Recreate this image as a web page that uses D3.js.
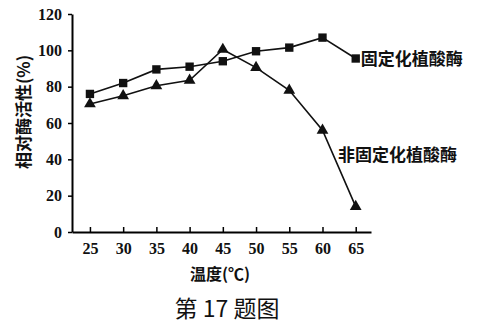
<!DOCTYPE html>
<html>
<head>
<meta charset="utf-8">
<script src="https://cdn.jsdelivr.net/npm/d3@7"></script>
<style>
  body { margin: 0; background: #fff; }
  svg text { fill: #111; }
</style>
</head>
<body>
<script>
const w = 484;
const h = 332;

// data
const temps = [25, 30, 35, 40, 45, 50, 55, 60, 65];
const fixedEnzyme = [76, 82, 89.5, 91, 94, 99.5, 101.5, 107, 95.5];
const freeEnzyme = [70.5, 75, 80.5, 83.5, 100.5, 90.5, 78, 56, 14];
const yTicks = [0, 20, 40, 60, 80, 100, 120];
const seriesNames = ["固定化植酸酶", "非固定化植酸酶"];

const svg = d3.select("body")
  .append("svg")
  .attr("width", w)
  .attr("height", h);

const xScale = d3.scaleLinear()
  .domain([22.3, 67.3])
  .range([72, 371]);

const yScale = d3.scaleLinear()
  .domain([0, 120])
  .range([232, 14]);

const serif = "'Liberation Serif', 'Times New Roman', serif";
const cjk = "'Noto Sans CJK SC', sans-serif";

// y axis
const yAxis = d3.axisLeft(yScale)
  .tickValues(yTicks)
  .tickSize(4)
  .tickSizeOuter(0)
  .tickPadding(6);
const yAxisGroup = svg.append("g")
  .attr("transform", "translate(72, 0)")
  .call(yAxis);
yAxisGroup.select(".domain").attr("stroke-width", 2);
yAxisGroup.selectAll(".tick line").attr("stroke-width", 1.5);
yAxisGroup.selectAll(".tick text")
  .style("font-family", serif)
  .style("font-size", "16px")
  .style("font-weight", "bold");

// x axis, ticks point up into the plot
const xAxis = d3.axisBottom(xScale)
  .tickValues(temps)
  .tickSize(-5)
  .tickSizeOuter(0)
  .tickPadding(11);
const xAxisGroup = svg.append("g")
  .attr("transform", "translate(0, 232)")
  .call(xAxis);
xAxisGroup.select(".domain").attr("stroke-width", 2);
xAxisGroup.selectAll(".tick line").attr("stroke-width", 1.5);
xAxisGroup.selectAll(".tick text")
  .style("font-family", serif)
  .style("font-size", "16px")
  .style("font-weight", "bold");

const line = d3.line()
  .x((d, i) => xScale(temps[i]))
  .y(d => yScale(d));

svg.append("path")
  .datum(fixedEnzyme)
  .attr("d", line)
  .attr("fill", "none")
  .attr("stroke", "#111")
  .attr("stroke-width", 1.6);

svg.append("path")
  .datum(freeEnzyme)
  .attr("d", line)
  .attr("fill", "none")
  .attr("stroke", "#111")
  .attr("stroke-width", 1.6);

svg.selectAll("path.sq")
  .data(fixedEnzyme)
  .enter()
  .append("path")
  .attr("class", "sq")
  .attr("d", d3.symbol().type(d3.symbolSquare).size(70))
  .attr("transform", (d, i) => `translate(${xScale(temps[i])}, ${yScale(d)})`)
  .attr("fill", "#111");

svg.selectAll("path.tri")
  .data(freeEnzyme)
  .enter()
  .append("path")
  .attr("class", "tri")
  .attr("d", d3.symbol().type(d3.symbolTriangle).size(60))
  .attr("transform", (d, i) => `translate(${xScale(temps[i])}, ${yScale(d)})`)
  .attr("fill", "#111");

// series labels
svg.append("text")
  .attr("x", xScale(65) + 5)
  .attr("y", yScale(fixedEnzyme[8]) + 6)
  .style("font-family", cjk)
  .style("font-size", "17px")
  .style("font-weight", "bold")
  .text(seriesNames[0]);

svg.append("text")
  .attr("x", 338)
  .attr("y", 161)
  .style("font-family", cjk)
  .style("font-size", "17px")
  .style("font-weight", "bold")
  .text(seriesNames[1]);

// axis titles
svg.append("text")
  .attr("transform", "translate(22, 112) rotate(-90)")
  .attr("text-anchor", "middle")
  .attr("dominant-baseline", "central")
  .style("font-family", cjk)
  .style("font-size", "17px")
  .style("font-weight", "bold")
  .text("相对酶活性(%)");

svg.append("text")
  .attr("x", 220)
  .attr("y", 280)
  .attr("text-anchor", "middle")
  .style("font-family", cjk)
  .style("font-size", "16px")
  .style("font-weight", "bold")
  .text("温度(℃)");

svg.append("text")
  .attr("x", 227)
  .attr("y", 317)
  .attr("text-anchor", "middle")
  .style("font-family", cjk)
  .style("font-size", "23px")
  .text("第 17 题图");
</script>
</body>
</html>
